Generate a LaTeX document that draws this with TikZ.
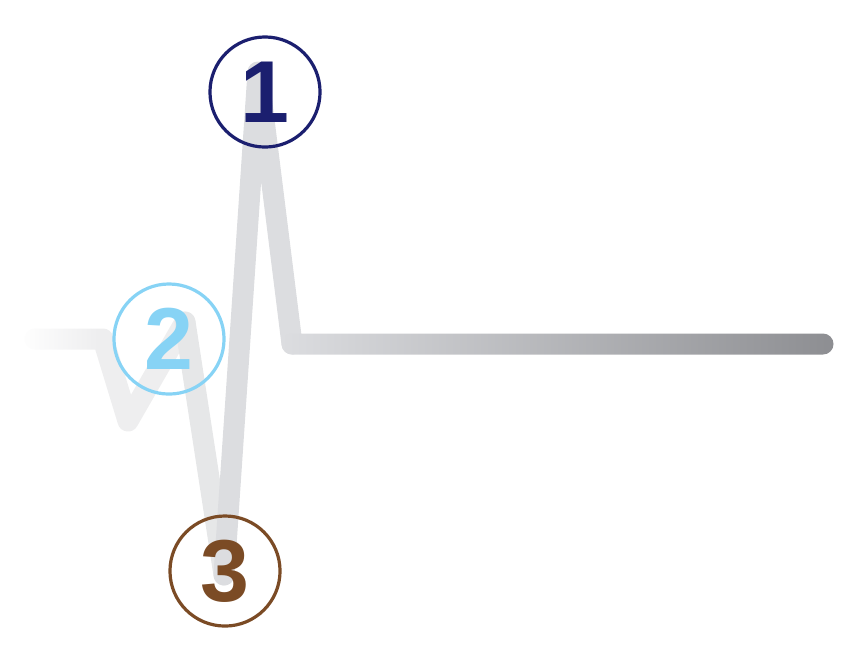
\documentclass[tikz,border=0pt]{standalone}
\usepackage{fontspec}
\setmainfont{Liberation Sans}
\usepackage{xcolor}
\definecolor{Col1}{RGB}{27,31,111}
\definecolor{Col2}{RGB}{135,211,245}
\definecolor{Col3}{RGB}{123,75,37}
\definecolor{Gray1}{RGB}{238,238,239}
\definecolor{Gray2}{RGB}{230,231,232}
\definecolor{Gray3}{RGB}{220,221,224}
\definecolor{Gray4}{RGB}{141,142,146}
\usepackage{tikz}
\usetikzlibrary{fadings}
\tikzfading[name=FadeOut,left color=transparent!0,
right color=transparent!100]
\tikzstyle{Ring}=[circle,minimum size=1.1cm,inner sep=0pt,
line width=0.032cm,font=\fontsize{25}{25}\selectfont\bfseries]
\tikzstyle{Trace}=[line width=0.21cm,line cap=round,line join=round]

\begin{document}
\begin{tikzpicture}[x=0.01cm,y=-0.01cm]
        \useasboundingbox (0,0) rectangle (862,666);
        \coordinate(0)at(35.00,339.00);
        \coordinate(1)at(103.00,339.00);
        \coordinate(2)at(128.00,421.00);
        \coordinate(3)at(185.00,322.00);
        \coordinate(4)at(224.00,575.00);
        \coordinate(5)at(258.00,72.00);
        \coordinate(6)at(292.00,344.00);
        \coordinate(7)at(823.00,344.00);
        \draw[Trace,Gray1](0)--(1)--(2)--(3);
        \fill[white,path fading=FadeOut](20,325)rectangle(100,353);
        \draw[Trace,Gray2](3)--(4);
        \draw[Trace,Gray3](4)--(5)--(6);
        \shade[left color=Gray3,right color=Gray4,rounded corners=0.105cm]
            (281.5,333.5)rectangle(833.5,354.5);
        \node[Ring,draw=Col1,text=Col1](one)at(265.00,92.00){1};
        \node[Ring,draw=Col2,text=Col2](two)at(169.00,339.00){2};
        \node[Ring,draw=Col3,text=Col3](three)at(225.00,571.00){3};
    \end{tikzpicture}
\end{document}
